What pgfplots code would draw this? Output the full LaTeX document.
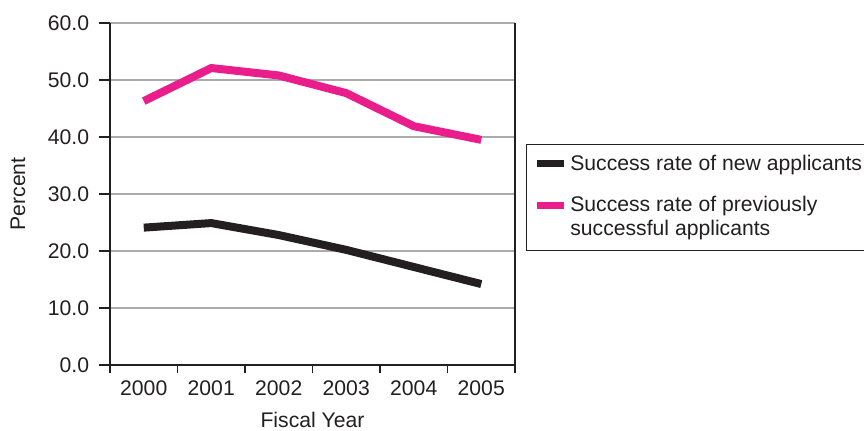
\documentclass[border=0pt]{standalone}
\usepackage{fontspec}
\setmainfont{Liberation Sans}
\usepackage{pgfplots}
\pgfplotsset{compat=1.18}
\definecolor{pinkline}{HTML}{E91E8C}
\definecolor{darkline}{HTML}{231F20}
\definecolor{gridgrey}{HTML}{ABABAB}
\begin{document}
\fontsize{12.7}{14.4}\selectfont
\begin{tikzpicture}
\begin{axis}[
  at={(0,0)}, anchor=south west,
  scale only axis, width=243pt, height=205.2pt,
  xmin=-0.5, xmax=5.5, ymin=0, ymax=60,
  axis x line*=bottom, axis y line*=box,
  axis line style={darkline, line width=1.1pt},
  xtick={0,1,2,3,4,5},
  xticklabels={2000,2001,2002,2003,2004,2005},
  minor xtick={-0.5,0.5,1.5,2.5,3.5,4.5,5.5},
  major x tick style={draw=none},
  minor tick length=4.8pt,
  ytick={0,10,20,30,40,50,60},
  ymajorgrids, major grid style={gridgrey, line width=0.9pt},
  tick align=outside, tick pos=left,
  major tick length=6.6pt,
  tick style={darkline, line width=1pt},
  /pgf/number format/assume math mode=true,
  ticklabel style={font=\fontsize{12.7}{14}\selectfont, text=darkline},
  xticklabel style={anchor=center, yshift=-7.4pt},
  yticklabel style={anchor=east, xshift=-1.5pt, /pgf/number format/.cd, fixed, fixed zerofill, precision=1},
  xlabel={Fiscal Year}, ylabel={Percent},
  label style={font=\fontsize{12.7}{14}\selectfont, text=darkline},
  xlabel style={at={(axis description cs:0.5,0)}, anchor=center, yshift=-33pt},
  ylabel style={at={(axis description cs:0,0.5)}, anchor=center, yshift=55.2pt},
  legend style={at={(1,1)}, anchor=north west, xshift=6.6pt, yshift=-72.6pt,
    draw=darkline, line width=0.8pt, font=\fontsize{12.7}{14.4}\selectfont,
    text=darkline, inner xsep=4pt, inner ysep=4pt, row sep=9.2pt,
    cells={anchor=west}},
  legend image code/.code={\draw[darkline, line width=4.2pt] (0pt,0pt) -- (16pt,0pt);},
]
\addplot[darkline, line width=4.8pt] coordinates {(0,24.1) (1,24.9) (2,22.8) (3,20.2) (4,17.2) (5,14.2)};
\addlegendentry{Success rate of new applicants}
\addplot[pinkline, line width=4.8pt,
  legend image code/.code={\draw[pinkline, line width=4.2pt] (0pt,7.4pt) -- (16pt,7.4pt);}]
  coordinates {(0,46.3) (1,52.1) (2,50.8) (3,47.7) (4,41.9) (5,39.5)};
\addlegendentry{\begin{tabular}{@{}l@{}}Success rate of previously\\successful applicants\rule[-20pt]{0pt}{20pt}\end{tabular}}
\end{axis}
\pgfresetboundingbox
\path[use as bounding box] (-66pt,-39pt) rectangle (452.4pt,219pt);
\end{tikzpicture}
\end{document}
